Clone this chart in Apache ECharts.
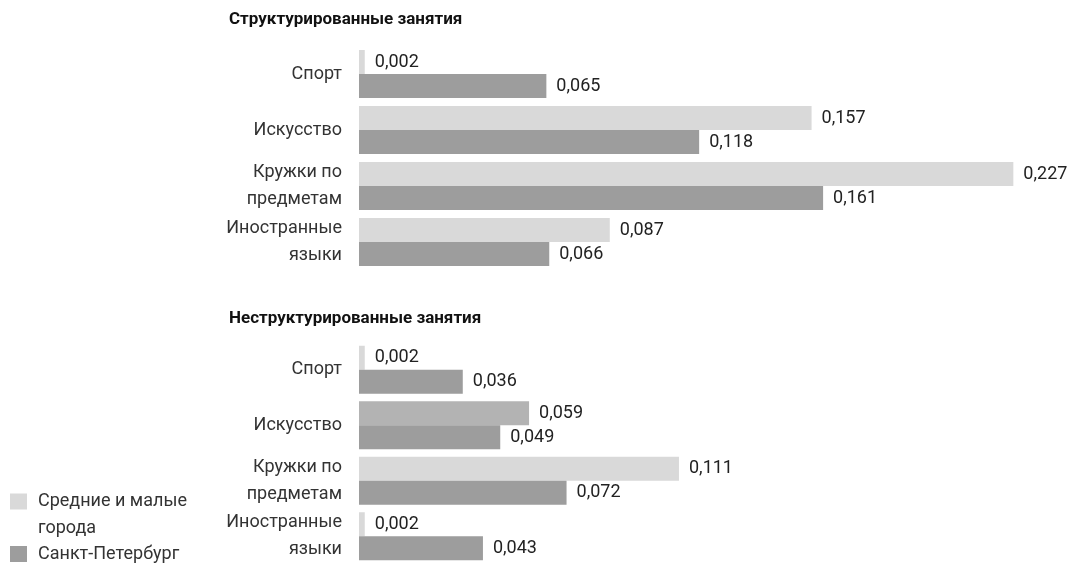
<!DOCTYPE html>
<html>
<head>
<meta charset="utf-8">
<script src="https://cdn.jsdelivr.net/npm/echarts@6/dist/echarts.min.js"></script>
<style>html,body{margin:0;padding:0;background:#fff}#c{width:1068px;height:564px}</style>
</head>
<body>
<div id="c"></div>
<script>
const categories = ['Спорт', 'Искусство', 'Кружки по\nпредметам', 'Иностранные\nязыки'];
const panelTitles = ['Структурированные занятия', 'Неструктурированные занятия'];
const seriesNames = ['Средние и малые города', 'Санкт-Петербург'];
const structuredSmall = [0.002, 0.157, 0.227, 0.087];
const structuredSpb = [0.065, 0.118, 0.161, 0.066];
const unstructuredSmall = [0.002, 0.059, 0.111, 0.002];
const unstructuredSpb = [0.036, 0.049, 0.072, 0.043];

const FONT = 'Roboto';
const LIGHT = '#d9d9d9', DARK = '#9d9d9d', MID = '#b3b3b3';

const chart = echarts.init(document.getElementById('c'), null, {renderer: 'canvas'});
const fmt = p => p.value.toFixed(3).replace('.', ',');
const labelCfg = {show: true, position: 'right', distance: 10, formatter: fmt,
  fontFamily: FONT, fontSize: 18, color: '#222'};

function bar(name, data, idx, color) {
  return {name, type: 'bar', xAxisIndex: idx, yAxisIndex: idx, data,
    barWidth: 24, barGap: '0%', itemStyle: {color}, label: labelCfg,
    emphasis: {disabled: true}, animation: false};
}
const unstructSmallData = unstructuredSmall.map((v, i) =>
  i === 1 ? {value: v, itemStyle: {color: MID}} : v);

const xAxisCfg = idx => ({gridIndex: idx, type: 'value', min: 0, max: 0.23, show: false});
const yAxisCfg = idx => ({gridIndex: idx, type: 'category', data: categories, inverse: true,
  axisLine: {show: false}, axisTick: {show: false}, splitLine: {show: false},
  axisLabel: {fontFamily: FONT, fontSize: 18, lineHeight: 27, color: '#333', margin: 17}});

const titleStyle = {fontFamily: FONT, fontSize: 17, fontWeight: 'bold', color: '#111'};

chart.setOption({
  animation: false,
  textStyle: {fontFamily: FONT},
  title: [
    {text: panelTitles[0], left: 224, top: 6, textStyle: titleStyle},
    {text: panelTitles[1], left: 224, top: 305, textStyle: titleStyle}
  ],
  grid: [
    {left: 359, top: 46, height: 224, width: 663},
    {left: 359, top: 342, height: 224, width: 663}
  ],
  xAxis: [xAxisCfg(0), xAxisCfg(1)],
  yAxis: [yAxisCfg(0), yAxisCfg(1)],
  legend: [
    {data: [seriesNames[0]], orient: 'vertical', left: 5, top: 456, icon: 'rect',
      itemWidth: 17, itemHeight: 16, selectedMode: false,
      formatter: () => '\nСредние и малые\nгорода',
      textStyle: {fontFamily: FONT, fontSize: 18, color: '#333', lineHeight: 27, padding: [0, 0, 0, 6]}},
    {data: [seriesNames[1]], orient: 'vertical', left: 5, top: 540, icon: 'rect',
      itemWidth: 17, itemHeight: 16, selectedMode: false,
      textStyle: {fontFamily: FONT, fontSize: 18, color: '#333', lineHeight: 16, padding: [0, 0, 0, 6]}}
  ],
  series: [
    bar(seriesNames[0], structuredSmall, 0, LIGHT),
    bar(seriesNames[1], structuredSpb, 0, DARK),
    bar(seriesNames[0], unstructSmallData, 1, LIGHT),
    bar(seriesNames[1], unstructuredSpb, 1, DARK)
  ]
});
</script>
</body>
</html>
